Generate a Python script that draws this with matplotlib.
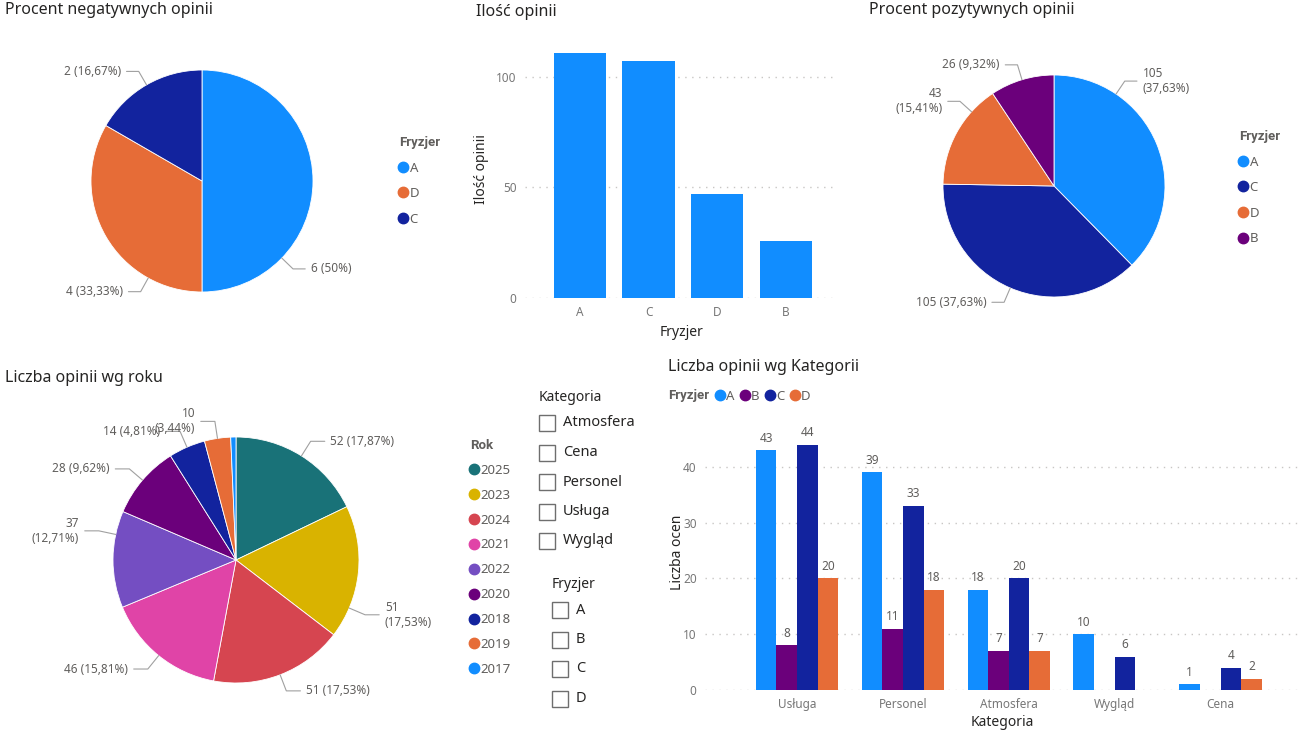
import numpy as np
import matplotlib.pyplot as plt
from matplotlib.lines import Line2D
from matplotlib.patches import Rectangle

plt.rcParams['font.family'] = ['Noto Sans', 'DejaVu Sans']
POGRUB = ['Roboto', 'DejaVu Sans']

# --- dane ---
fryzjer_kolory = {'A': '#118DFF', 'B': '#6B007B', 'C': '#12239E', 'D': '#E66C37'}

neg_fryzjer = ['A', 'D', 'C']
neg_wartosci = [6, 4, 2]

poz_fryzjer = ['A', 'C', 'D', 'B']
poz_wartosci = [105, 105, 43, 26]

ilosc_fryzjer = ['A', 'C', 'D', 'B']
ilosc_wartosci = [111, 107, 47, 26]

lata = ['2025', '2023', '2024', '2021', '2022', '2020', '2018', '2019', '2017']
lata_wartosci = [52, 51, 51, 46, 37, 28, 14, 10, 2]
lata_kolory = ['#197278', '#D9B300', '#D64550', '#E044A7', '#744EC2',
               '#6B007B', '#12239E', '#E66C37', '#118DFF']

kategorie = ['Usługa', 'Personel', 'Atmosfera', 'Wygląd', 'Cena']
kat_A = [43, 39, 18, 10, 1]
kat_B = [8, 11, 7, np.nan, np.nan]
kat_C = [44, 33, 20, 6, 4]
kat_D = [20, 18, 7, np.nan, 2]

slicer_kategoria = ['Atmosfera', 'Cena', 'Personel', 'Usługa', 'Wygląd']
slicer_fryzjer = ['A', 'B', 'C', 'D']

W, H = 1308, 730
SZARY = '#605E5C'
CIEMNY = '#252423'

fig = plt.figure(figsize=(W / 100, H / 100), dpi=100)


def box(x0, y0, x1, y1):
    # piksele (od gory) -> ulamki figury
    return [x0 / W, 1 - y1 / H, (x1 - x0) / W, (y1 - y0) / H]


def tytul(x, y, t):
    fig.text(x / W, 1 - y / H, t, fontsize=11.5, color=CIEMNY, va='center', ha='left')


def etykieta(v, suma):
    p = f"{100 * v / suma:.2f}".rstrip('0').rstrip('.').replace('.', ',')
    return f"{v} ({p}%)"


def kolo(ax, wartosci, kolory, zawin=(), katy=None, lim=1.6):
    katy = katy or {}
    wedges, _ = ax.pie(wartosci, colors=kolory, startangle=90, counterclock=False,
                       wedgeprops=dict(linewidth=0.6, edgecolor='white'))
    suma = sum(wartosci)
    for i, w in enumerate(wedges):
        if wartosci[i] / suma < 0.01:
            continue
        th = katy.get(i, (w.theta1 + w.theta2) / 2)
        c, s = np.cos(np.radians(th)), np.sin(np.radians(th))
        znak = 1 if c >= 0 else -1
        txt = etykieta(wartosci[i], suma)
        if i in zawin:
            txt = txt.replace(' ', '\n', 1)
        ax.annotate(txt, xy=(c, s), xytext=(1.14 * c + znak * 0.16, 1.14 * s),
                    ha='left' if znak > 0 else 'right', va='center',
                    multialignment='left' if znak > 0 else 'right',
                    fontsize=8.5, color=SZARY,
                    arrowprops=dict(arrowstyle='-', color='#A0A0A0', lw=0.8,
                                    shrinkA=2, shrinkB=0,
                                    connectionstyle=f'angle,angleA=0,angleB={th}'))
    ax.set_xlim(-lim, lim)
    ax.set_ylim(-lim, lim)
    ax.set_aspect('equal')
    ax.axis('off')


def legenda(x, y, tytul_leg, etyk, kolory, spacing=0.95):
    uchwyty = [Line2D([], [], marker='o', ls='', color=k, markersize=7.5) for k in kolory]
    leg = fig.legend(uchwyty, etyk, title=tytul_leg, loc='upper left',
                     bbox_to_anchor=(x / W, 1 - y / H), frameon=False, fontsize=9.5,
                     title_fontproperties={'weight': 'bold', 'size': 9.5, 'family': POGRUB},
                     alignment='left', handlelength=0.6, handletextpad=0.2,
                     labelspacing=spacing, borderpad=0, borderaxespad=0,
                     labelcolor=SZARY)
    leg.get_title().set_color(SZARY)


# --- Procent negatywnych opinii ---
tytul(5, 10, 'Procent negatywnych opinii')
ax1 = fig.add_axes(box(22, 1, 382, 361))
kolo(ax1, neg_wartosci, [fryzjer_kolory[f] for f in neg_fryzjer],
     katy={0: -44, 1: -119}, lim=180 / 111)
legenda(399, 136, 'Fryzjer', neg_fryzjer, [fryzjer_kolory[f] for f in neg_fryzjer])

# --- Procent pozytywnych opinii ---
tytul(869, 10, 'Procent pozytywnych opinii')
ax3 = fig.add_axes(box(874, 6, 1234, 366))
kolo(ax3, poz_wartosci, [fryzjer_kolory[f] for f in poz_fryzjer],
     zawin=(0, 2), katy={0: 56, 2: 138}, lim=180 / 111)
legenda(1239, 130, 'Fryzjer', poz_fryzjer, [fryzjer_kolory[f] for f in poz_fryzjer])

# --- Liczba opinii wg roku ---
tytul(5, 378, 'Liczba opinii wg roku')
ax4 = fig.add_axes(box(66, 390, 406, 730))
kolo(ax4, lata_wartosci, lata_kolory, zawin=(1, 4, 7),
     katy={1: -23, 4: 168}, lim=170 / 123)
legenda(470, 439, 'Rok', lata, lata_kolory, spacing=0.9)

# --- Ilość opinii ---
tytul(476, 12, 'Ilość opinii')
ax2 = fig.add_axes(box(525, 40, 838, 298))
x = np.arange(len(ilosc_fryzjer))
ax2.bar(x, ilosc_wartosci, width=0.76, color=fryzjer_kolory['A'], zorder=3)
ax2.set_xticks(x, ilosc_fryzjer)
ax2.set_yticks([0, 50, 100])
ax2.set_xlim(-0.8, 3.76)
ax2.set_ylim(0, 116.7)
ax2.set_xlabel('Fryzjer', fontsize=10, color=CIEMNY, labelpad=4)
ax2.set_ylabel('Ilość opinii', fontsize=10, color=CIEMNY)
ax2.yaxis.set_label_coords(-0.115, 0.5)

# --- Liczba opinii wg Kategorii ---
tytul(668, 367, 'Liczba opinii wg Kategorii')
ax5 = fig.add_axes(box(705, 415, 1300, 690))
xk = np.arange(len(kategorie))
szer = 0.195
for j, (f, dane) in enumerate(zip(['A', 'B', 'C', 'D'], [kat_A, kat_B, kat_C, kat_D])):
    bars = ax5.bar(xk + (j - 1.5) * szer, dane, width=szer, color=fryzjer_kolory[f], zorder=3)
    ax5.bar_label(bars, labels=['' if np.isnan(v) else str(int(v)) for v in dane],
                  padding=4, fontsize=8.5, color=SZARY)
ax5.set_xticks(xk, kategorie)
ax5.set_yticks([0, 10, 20, 30, 40])
ax5.set_xlim(-0.87, 4.75)
ax5.set_ylim(0, 49.3)
ax5.set_xlabel('Kategoria', fontsize=10, color=CIEMNY, labelpad=3)
ax5.set_ylabel('Liczba ocen', fontsize=10, color=CIEMNY)
ax5.yaxis.set_label_coords(-0.034, 0.5)

for ax in (ax2, ax5):
    for sp in ax.spines.values():
        sp.set_visible(False)
    ax.grid(axis='y', linestyle=(0, (1, 4)), color='#C8C6C4', lw=1, zorder=0)
    ax.tick_params(length=0, labelsize=8.5, labelcolor='#777777', pad=6)

# legenda pozioma
fig.text(668 / W, 1 - 396 / H, 'Fryzjer', fontsize=9.5, weight='bold', color=SZARY,
         va='center', ha='left', family=POGRUB)
uchwyty = [Line2D([], [], marker='o', ls='', color=fryzjer_kolory[f], markersize=7.5)
           for f in ['A', 'B', 'C', 'D']]
fig.legend(uchwyty, ['A', 'B', 'C', 'D'], loc='center left',
           bbox_to_anchor=(716 / W, 1 - 396 / H), ncol=4, frameon=False, fontsize=9.5,
           handlelength=0.6, handletextpad=0.15, columnspacing=0.5, borderpad=0,
           borderaxespad=0, labelcolor=SZARY)

# --- fragmentatory (slicery) ---
def slicer(x, y, naglowek, elementy, krok=29.5):
    fig.text(x / W, 1 - y / H, naglowek, fontsize=10, color=CIEMNY, va='center', ha='left')
    for i, e in enumerate(elementy):
        yc = y + 26 + i * krok
        fig.add_artist(Rectangle((x / W, 1 - (yc + 8) / H), 16 / W, 16 / H,
                                 transform=fig.transFigure, fill=False,
                                 edgecolor='#6E6E6E', lw=1))
        fig.text((x + 24) / W, 1 - yc / H, e, fontsize=10.5, color=CIEMNY,
                 va='center', ha='left')


slicer(539, 397, 'Kategoria', slicer_kategoria)
slicer(552, 584, 'Fryzjer', slicer_fryzjer)

fig.savefig('out.png', dpi=100)
